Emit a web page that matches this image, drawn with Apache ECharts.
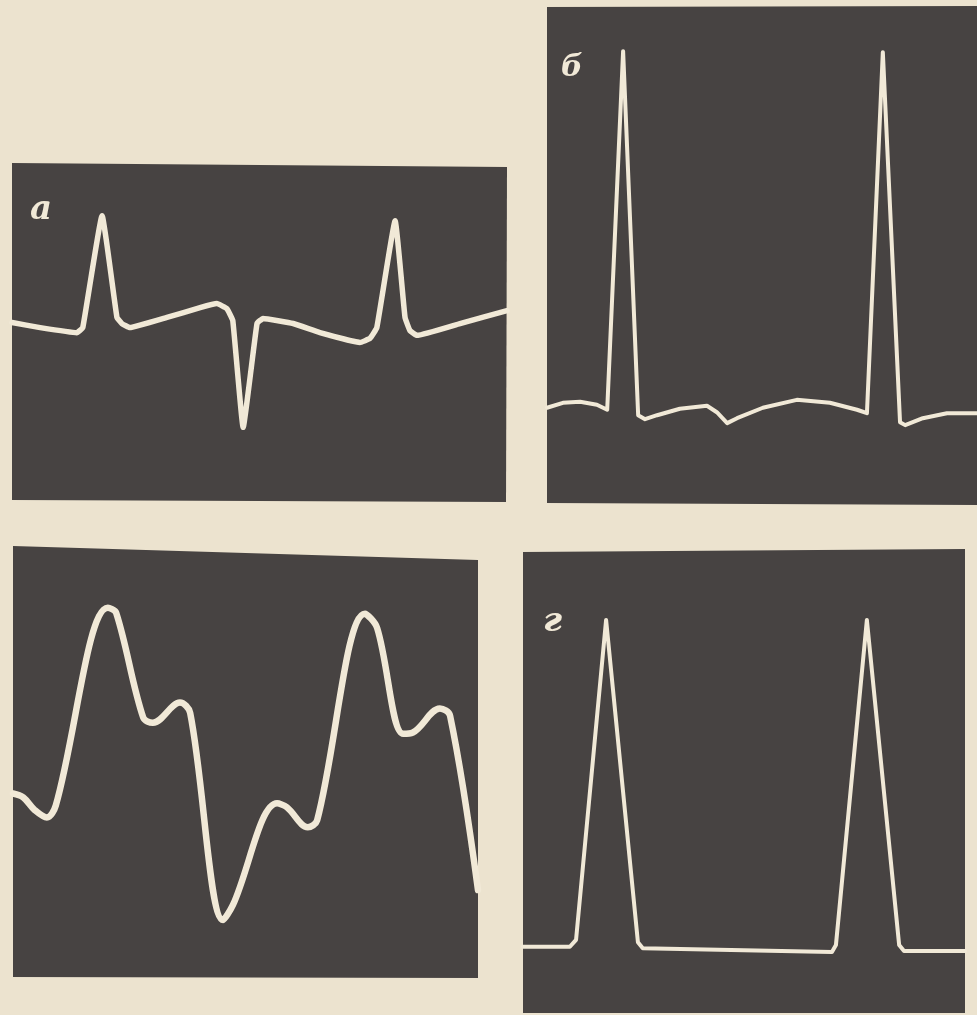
<!DOCTYPE html>
<html>
<head>
<meta charset="utf-8">
<script src="https://cdn.jsdelivr.net/npm/echarts@6/dist/echarts.min.js"></script>
<style>
html,body{margin:0;padding:0;background:#ece3cf;}
#chart{width:977px;height:1015px;}
</style>
</head>
<body>
<div id="chart"></div>
<script>
// Panel labels
const panelLabels = ['а', 'б', 'в', 'г'];

// Trace а (time 0–100 across screen, amplitude 0–100 of screen height)
const traceA_t = [0, 5.7, 13.1, 14.3, 18.2, 21.2, 22.2, 23.8, 31.3, 38.0, 41.4, 43.4, 44.6, 46.7, 49.5, 50.7, 56.8, 62.2, 70.3, 72.3, 73.7, 77.4, 79.4, 80.4, 81.8, 90.5, 100];
const traceA_v = [53.1, 51.6, 50.1, 51.6, 84.7, 54.6, 52.8, 51.6, 54.6, 57.5, 58.7, 57.2, 53.7, 22.1, 52.8, 54.3, 52.8, 50.1, 47.2, 48.4, 51.6, 83.2, 54.6, 50.7, 49.3, 52.8, 56.6];

// Trace б
const traceB_t = [0, 3.7, 7.7, 11.6, 14.0, 17.7, 21.2, 22.8, 25.6, 30.9, 37.2, 39.5, 41.9, 44.2, 50.2, 58.1, 65.8, 72.1, 74.4, 78.1, 82.1, 83.3, 87.4, 93.0, 100];
const traceB_v = [19.2, 20.2, 20.4, 19.8, 18.8, 91.1, 17.7, 16.9, 17.7, 19.0, 19.6, 18.3, 16.1, 17.1, 19.2, 20.8, 20.2, 18.8, 18.1, 90.9, 16.3, 15.7, 17.1, 18.1, 18.1];

// Trace в
const traceC_t = [0, 2.2, 4.7, 7.3, 9.2, 20.4, 22.2, 28.0, 30.1, 35.9, 38.1, 45.2, 47.3, 56.8, 58.9, 63.4, 65.4, 75.7, 78.3, 83.9, 86.0, 91.8, 94.0, 100];
const traceC_v = [43.2, 42.3, 39.3, 37.6, 40.4, 86.7, 85.5, 61.0, 59.8, 64.5, 62.1, 13.6, 17.1, 40.9, 40.0, 35.3, 36.9, 85.3, 82.0, 57.2, 57.5, 63.1, 61.4, 20.6];

// Trace г
const traceD_t = [0, 10.6, 12.0, 18.8, 26.0, 27.1, 69.9, 70.8, 77.8, 85.1, 86.2, 100];
const traceD_v = [14.3, 14.3, 15.8, 84.9, 15.3, 14.0, 13.2, 14.7, 84.9, 14.7, 13.4, 13.4];

const zip = (t, v) => t.map((x, i) => [x, v[i]]);

const paper = '#ece3cf';
const panelBg = '#474342';
const traceColor = '#f1e9d7';

const grids = [
  {left: 12, top: 164, width: 495, height: 338},
  {left: 547, top: 7, width: 430, height: 496},
  {left: 13, top: 551, width: 465, height: 427},
  {left: 523, top: 550, width: 442, height: 463}
];
// slightly skewed photographic frames behind each grid
const frames = [
  [[12, 163], [507, 167], [506, 502], [12, 500]],
  [[547, 7], [977, 6], [977, 505], [547, 503]],
  [[13, 546], [478, 560], [478, 978], [13, 977]],
  [[523, 552], [965, 549], [965, 1013], [523, 1013]]
];
const widths = [5.5, 4, 6.5, 4];
const smooths = [0.1, false, 0.35, false];
const traces = [zip(traceA_t, traceA_v), zip(traceB_t, traceB_v), zip(traceC_t, traceC_v), zip(traceD_t, traceD_v)];

const chart = echarts.init(document.getElementById('chart'), null, {renderer: 'canvas'});
chart.setOption({
  backgroundColor: paper,
  animation: false,
  graphic: frames.map(pts => ({
    type: 'polygon', z: 0, silent: true,
    shape: {points: pts},
    style: {fill: panelBg}
  })),
  grid: grids.map(g => Object.assign({show: false}, g)),
  xAxis: grids.map((g, i) => ({type: 'value', gridIndex: i, min: 0, max: 100, show: false})),
  yAxis: grids.map((g, i) => ({type: 'value', gridIndex: i, min: 0, max: 100, show: false})),
  title: [
    {text: panelLabels[0], left: 25, top: 188, textStyle: {color: traceColor, fontSize: 34, fontStyle: 'italic', fontWeight: 'bold', fontFamily: 'DejaVu Serif'}},
    {text: panelLabels[1], left: 556, top: 48, textStyle: {color: traceColor, fontSize: 30, fontStyle: 'italic', fontWeight: 'bold', fontFamily: 'DejaVu Serif'}},
    {text: panelLabels[3], left: 538, top: 600, textStyle: {color: traceColor, fontSize: 34, fontStyle: 'italic', fontWeight: 'bold', fontFamily: 'DejaVu Serif'}}
  ],
  series: traces.map((d, i) => ({
    type: 'line',
    xAxisIndex: i,
    yAxisIndex: i,
    data: d,
    symbol: 'none',
    smooth: smooths[i],
    clip: true,
    z: 3,
    lineStyle: {color: traceColor, width: widths[i], join: 'round', cap: 'round'}
  }))
});
</script>
</body>
</html>
